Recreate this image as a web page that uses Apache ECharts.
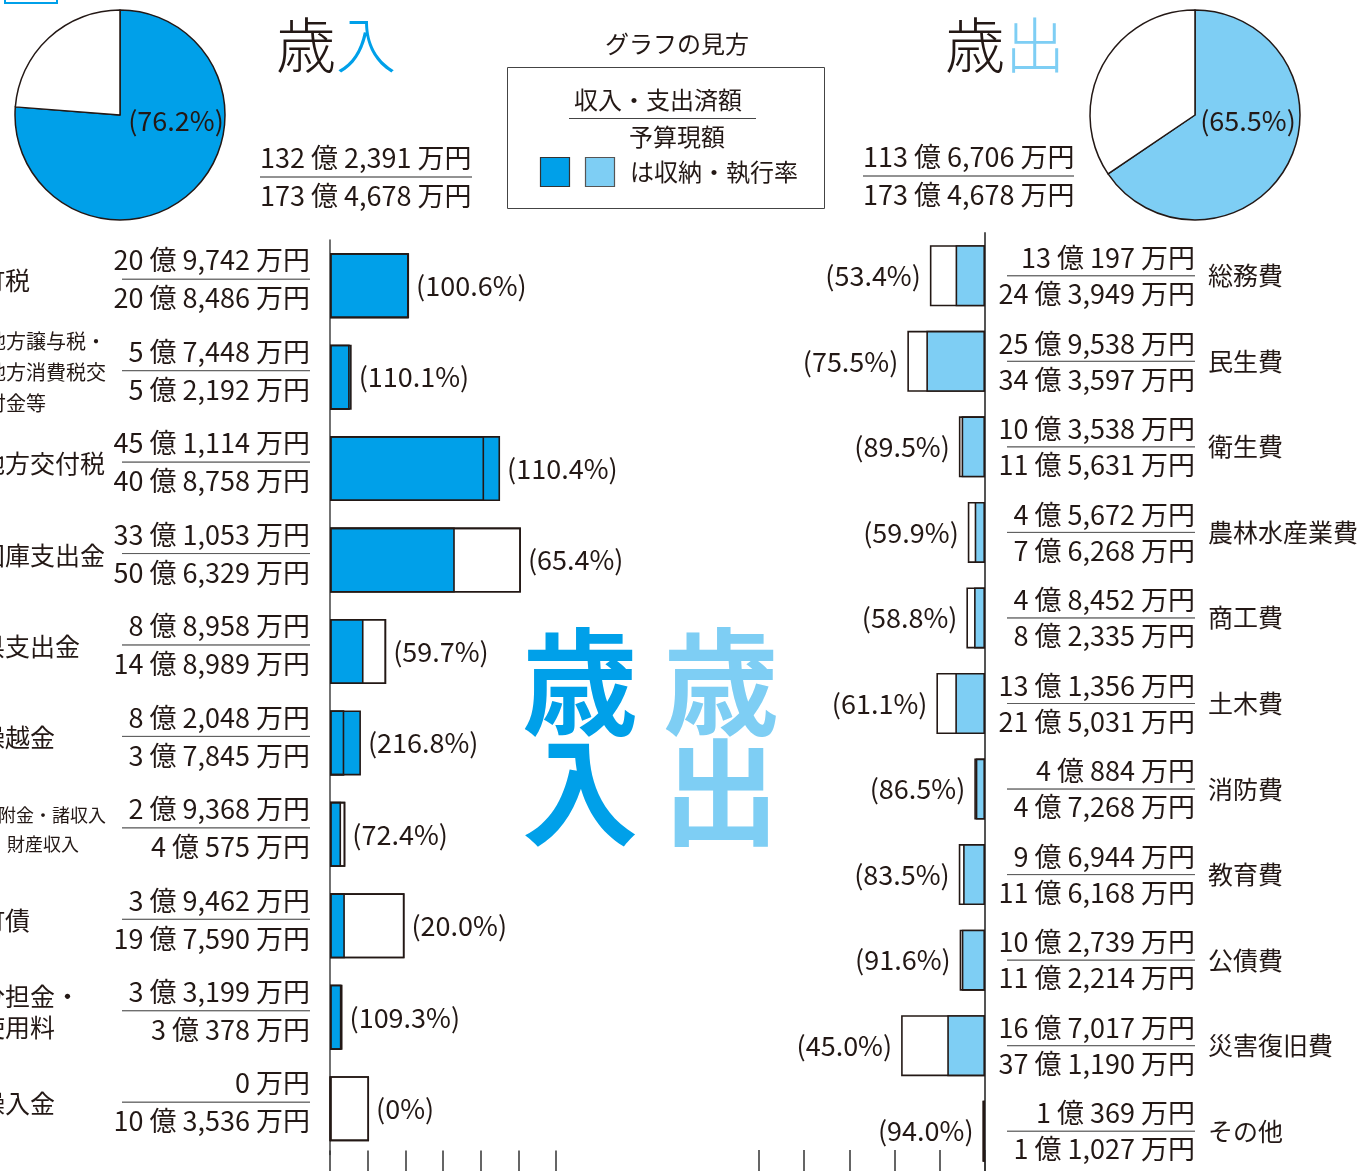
<!DOCTYPE html>
<html>
<head>
<meta charset="utf-8">
<script src="https://cdn.jsdelivr.net/npm/echarts@6/dist/echarts.min.js"></script>
<style>
html, body { margin: 0; padding: 0; background: #fff; }
#chart { width: 1357px; height: 1171px; }
</style>
</head>
<body>
<div id="chart"></div>
<script>
/** データ（単位：万円） */
var revenueCats = ['町税', '地方譲与税・\n地方消費税交\n付金等', '地方交付税', '国庫支出金', '県支出金', '繰越金', '寄附金・諸収入\n財産収入', '町債', '分担金・\n使用料', '繰入金']
var revenueActual = [209742, 57448, 451114, 331053, 88958, 82048, 29368, 39462, 33199, 0]       // 収入済額
var revenueBudget = [208486, 52192, 408758, 506329, 148989, 37845, 40575, 197590, 30378, 103536]  // 予算現額

var expenseCats = ['総務費', '民生費', '衛生費', '農林水産業費', '商工費', '土木費', '消防費', '教育費', '公債費', '災害復旧費', 'その他']
var expenseActual = [130197, 259538, 103538, 45672, 48452, 131356, 40884, 96944, 102739, 167017, 10369]   // 支出済額
var expenseBudget = [243949, 343597, 115631, 76268, 82335, 215031, 47268, 116168, 112214, 371190, 11027]  // 予算現額

var revenueTotal = [1322391, 1734678]  // 収入済額, 予算現額
var expenseTotal = [1136706, 1734678]  // 支出済額, 予算現額

/** スタイル */
var FONT = "'Noto Sans CJK JP', 'Noto Sans', sans-serif"
var BLUE = '#00A0E9'
var LIGHT = '#7ECEF4'
var EDGE = '#231815'
var INK = '#231815'

/** 書式 */
var fmtYen = function(v) {
	var oku = Math.floor(v / 10000)
	var man = (v % 10000).toLocaleString('en-US') + ' 万円'
	return oku > 0 ? oku + ' 億 ' + man : man
}
var rate = function(a, b) {
	return a === 0 ? '(0%)' : '(' + (a / b * 100).toFixed(1) + '%)'
}
var toOku = function(arr) { return arr.map(function(v) { return v / 10000 }) }
var maxOf = function(a, b) { return a.map(function(v, i) { return Math.max(v, b[i]) / 10000 }) }

var fracRich = function(lh, w) {
	return {
		num: {fontFamily: FONT, fontSize: 27, fontWeight: 'normal', lineHeight: lh, color: INK},
		hr: {width: w, height: 0, borderColor: '#555', borderWidth: 0.8},
		den: {fontFamily: FONT, fontSize: 27, fontWeight: 'normal', lineHeight: lh, color: INK}
	}
}
var fracText = function(a, b) {
	return '{num|' + fmtYen(a) + '}\n{hr|}\n{den|' + fmtYen(b) + '}'
}
// 長い項目名は詰めて表示（歳入側）
var nameRich = {
	n: {fontFamily: FONT, fontSize: 25, lineHeight: 31, color: INK},
	m: {fontFamily: FONT, fontSize: 20, lineHeight: 31, color: INK, padding: [0, 0, 0, 6]},
	s: {fontFamily: FONT, fontSize: 18, lineHeight: 29, color: INK},
	sc: {fontFamily: FONT, fontSize: 18, lineHeight: 29, color: INK, align: 'center'}
}
var nameText = function(v) {
	var lines = v.split('\n')
	var len = Math.max.apply(null, lines.map(function(l) { return l.length }))
	return lines.map(function(l, i) {
		if (len > 6) return (i === 0 ? '{s|' : '{sc|') + l + '}'
		if (len > 5) return '{m|' + l + '}'
		return '{n|' + l + '}'
	}).join('\n')
}
// 円グラフ中の率（少し下げる）
var pieRate = function(a, b) {
	return '{sp|}\n{t|' + rate(a, b) + '}'
}
var pieRich = {
	sp: {height: 11, lineHeight: 11},
	t: {fontFamily: FONT, fontSize: 27, lineHeight: 32, color: INK}
}

var barBase = function(xi, yi, data, w, color, border) {
	return {
		type: 'bar', xAxisIndex: xi, yAxisIndex: yi, data: data,
		barWidth: w, barGap: '-100%', silent: true,
		itemStyle: {color: color, borderColor: border ? EDGE : 'rgba(0,0,0,0)', borderWidth: border ? 1.6 : 0}
	}
}

var tick = {show: true, length: 24, lineStyle: {color: '#333', width: 1.5}}

var option = {
	animation: false,
	textStyle: {fontFamily: FONT},
	title: [
		{
			text: '{a|歳}{b|入}', left: 271, top: 10,
			textStyle: {rich: {
				a: {fontFamily: FONT, fontSize: 60, fontWeight: 300, color: INK},
				b: {fontFamily: FONT, fontSize: 60, fontWeight: 300, color: BLUE}
			}}
		},
		{
			text: '{a|歳}{b|出}', left: 940, top: 10,
			textStyle: {rich: {
				a: {fontFamily: FONT, fontSize: 60, fontWeight: 300, color: INK},
				b: {fontFamily: FONT, fontSize: 60, fontWeight: 300, color: LIGHT}
			}}
		},
		{
			text: fracText(revenueTotal[0], revenueTotal[1]), left: 255, top: 134,
			textStyle: {fontWeight: 'normal', rich: fracRich(38, 212)}
		},
		{
			text: fracText(expenseTotal[0], expenseTotal[1]), left: 858, top: 133,
			textStyle: {fontWeight: 'normal', rich: fracRich(38, 211)}
		},
		{
			text: 'グラフの見方', left: 600, top: 27,
			textStyle: {fontFamily: FONT, fontSize: 24, fontWeight: 'normal', color: INK}
		}
	],
	grid: [
		{left: 330, top: 240, width: 226.2, height: 914.4, containLabel: false, outerBoundsMode: 'none'},
		{left: 759, top: 233, width: 226, height: 941, containLabel: false, outerBoundsMode: 'none'}
	],
	xAxis: [
		{
			gridIndex: 0, type: 'value', min: 0, max: 60, interval: 10, offset: -4,
			axisLine: {show: false}, axisTick: tick, axisLabel: {show: false}, splitLine: {show: false}
		},
		{
			gridIndex: 1, type: 'value', min: 0, max: 100, interval: 20, inverse: true,
			axisLine: {show: false}, axisTick: Object.assign({inside: true}, tick),
			axisLabel: {show: false}, splitLine: {show: false}
		}
	],
	yAxis: [
		{
			gridIndex: 0, type: 'category', position: 'left', data: revenueCats, inverse: true,
			axisLine: {show: true, lineStyle: {color: '#444', width: 1.5}}, axisTick: {show: false},
			axisLabel: {
				interval: 0, margin: 20, padding: [0, 0, 13, 0],
				formatter: function(v, i) { return fracText(revenueActual[i], revenueBudget[i]) },
				rich: fracRich(38, 188)
			}
		},
		{
			gridIndex: 0, type: 'category', position: 'left', data: revenueCats, inverse: true,
			axisLine: {show: false}, axisTick: {show: false},
			axisLabel: {interval: 0, margin: 350, align: 'left', padding: [0, 0, 10, 0], formatter: nameText, rich: nameRich}
		},
		{
			gridIndex: 1, type: 'category', position: 'right', data: expenseCats, inverse: true,
			axisLine: {show: true, lineStyle: {color: '#555', width: 2}}, axisTick: {show: false},
			axisLabel: {
				interval: 0, margin: 210, align: 'right',
				formatter: function(v, i) { return fracText(expenseActual[i], expenseBudget[i]) },
				rich: fracRich(36, 188)
			}
		},
		{
			gridIndex: 1, type: 'category', position: 'right', data: expenseCats, inverse: true,
			axisLine: {show: false}, axisTick: {show: false},
			axisLabel: {interval: 0, margin: 223, align: 'left', fontFamily: FONT, fontSize: 25, color: INK}
		}
	],
	series: [
		// 歳入
		barBase(0, 0, toOku(revenueBudget), 65, '#fff', true),
		barBase(0, 0, toOku(revenueActual), 65, BLUE, true),
		barBase(0, 0, toOku(revenueBudget), 65, 'rgba(0,0,0,0)', true),
		Object.assign(barBase(0, 0, maxOf(revenueActual, revenueBudget), 65, 'rgba(0,0,0,0)', false), {
			label: {
				show: true, position: 'right', distance: 7,
				fontFamily: FONT, fontSize: 27, color: INK,
				formatter: function(p) { return rate(revenueActual[p.dataIndex], revenueBudget[p.dataIndex]) }
			}
		}),
		// 歳出
		barBase(1, 2, toOku(expenseBudget), 61, '#fff', true),
		barBase(1, 2, toOku(expenseActual), 61, LIGHT, true),
		Object.assign(barBase(1, 2, maxOf(expenseActual, expenseBudget), 61, 'rgba(0,0,0,0)', false), {
			label: {
				show: true, position: 'left', distance: 9,
				fontFamily: FONT, fontSize: 27, color: INK,
				formatter: function(p) { return rate(expenseActual[p.dataIndex], expenseBudget[p.dataIndex]) }
			}
		}),
		// 円グラフ
		{
			type: 'pie', center: [120, 115], radius: 105, startAngle: 90, clockwise: true, silent: true,
			labelLine: {show: false},
			itemStyle: {borderColor: EDGE, borderWidth: 1.5},
			data: [
				{value: revenueTotal[0], itemStyle: {color: BLUE},
				 label: {show: true, position: 'center', padding: [0, 0, 0, 112], rich: pieRich,
				         formatter: function() { return pieRate(revenueTotal[0], revenueTotal[1]) }}},
				{value: revenueTotal[1] - revenueTotal[0], itemStyle: {color: '#fff'}, label: {show: false}}
			]
		},
		{
			type: 'pie', center: [1195, 115], radius: 105, startAngle: 90, clockwise: true, silent: true,
			labelLine: {show: false},
			itemStyle: {borderColor: EDGE, borderWidth: 1.5},
			data: [
				{value: expenseTotal[0], itemStyle: {color: LIGHT},
				 label: {show: true, position: 'center', padding: [0, 0, 0, 106], rich: pieRich,
				         formatter: function() { return pieRate(expenseTotal[0], expenseTotal[1]) }}},
				{value: expenseTotal[1] - expenseTotal[0], itemStyle: {color: '#fff'}, label: {show: false}}
			]
		}
	],
	graphic: [
		// 左上の枠
		{type: 'rect', shape: {x: 5, y: -40, width: 52, height: 43}, style: {fill: 'none', stroke: BLUE, lineWidth: 2}},
		// グラフの見方
		{type: 'rect', shape: {x: 507.5, y: 67.5, width: 317, height: 141}, style: {fill: 'none', stroke: '#444', lineWidth: 1}},
		{type: 'text', x: 658, y: 100, style: {text: '収入・支出済額', font: '24px ' + FONT, fill: INK, align: 'center', verticalAlign: 'middle'}},
		{type: 'line', shape: {x1: 569, y1: 118.5, x2: 756, y2: 118.5}, style: {stroke: '#444', lineWidth: 1}},
		{type: 'text', x: 677, y: 137, style: {text: '予算現額', font: '24px ' + FONT, fill: INK, align: 'center', verticalAlign: 'middle'}},
		{type: 'rect', shape: {x: 540.5, y: 157.5, width: 29, height: 29}, style: {fill: BLUE, stroke: '#333', lineWidth: 1.2}},
		{type: 'rect', shape: {x: 585.5, y: 157.5, width: 29, height: 29}, style: {fill: LIGHT, stroke: '#555', lineWidth: 1.2}},
		{type: 'text', x: 630, y: 172, style: {text: 'は収納・執行率', font: '24px ' + FONT, fill: INK, align: 'left', verticalAlign: 'middle'}},
		// 中央の大きな文字
		{type: 'text', x: 580, y: 627, style: {text: '歳\n入', font: 'bold 116px ' + FONT, lineHeight: 110, fill: BLUE, align: 'center', verticalAlign: 'top'}},
		{type: 'text', x: 721, y: 627, style: {text: '歳\n出', font: 'bold 116px ' + FONT, lineHeight: 110, fill: LIGHT, align: 'center', verticalAlign: 'top'}}
	]
}

var myChart = echarts.init(document.getElementById('chart'))
myChart.setOption(option)
</script>
</body>
</html>
